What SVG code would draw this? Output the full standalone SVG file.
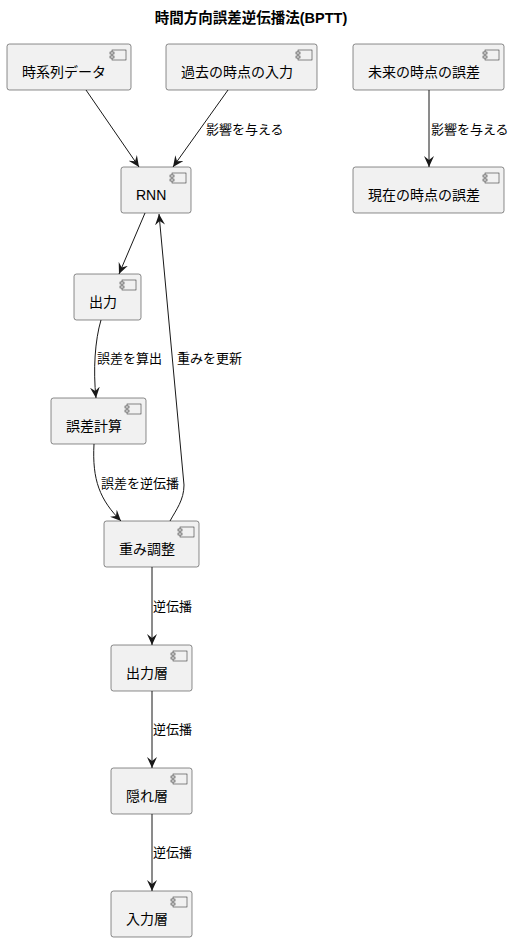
<svg xmlns="http://www.w3.org/2000/svg" width="515" height="942" viewBox="0 0 515 942">
<style>
.box{fill:#F1F1F1;stroke:#181818;stroke-width:0.5;}
.ic{fill:#F1F1F1;stroke:#181818;stroke-width:0.5;}
.t{font-family:"Liberation Sans","Noto Sans CJK JP",sans-serif;font-size:14px;fill:#000;}
.l{font-family:"Liberation Sans","Noto Sans CJK JP",sans-serif;font-size:13px;fill:#000;}
.title{font-family:"Liberation Sans","Noto Sans CJK JP",sans-serif;font-size:14.5px;font-weight:bold;fill:#000;}
.e{fill:none;stroke:#181818;stroke-width:1;}
</style>
<defs>
<marker id="a" viewBox="0 0 12 10" refX="11" refY="5" markerWidth="12" markerHeight="10" markerUnits="userSpaceOnUse" orient="auto">
<path d="M0,0 L11,5 L0,10 L4,5 Z" fill="#181818"/>
</marker>
<g id="icon">
<rect x="-19" y="6" width="14" height="10" class="ic"/>
<rect x="-21" y="8" width="4" height="2" class="ic"/>
<rect x="-21" y="12" width="4" height="2" class="ic"/>
</g>
</defs>
<rect width="515" height="942" fill="#FFFFFF"/>
<text class="title" x="251" y="23" text-anchor="middle">時間方向誤差逆伝播法(BPTT)</text>

<g id="connectors">
<path class="e" d="M86,90 L139,167" marker-end="url(#a)"/>
<path class="e" d="M228,90 L173,167" marker-end="url(#a)"/>
<text class="l" x="206" y="134">影響を与える</text>
<path class="e" d="M429,90 L429,167" marker-end="url(#a)"/>
<text class="l" x="431" y="134">影響を与える</text>
<path class="e" d="M145,213 L119,274" marker-end="url(#a)"/>
<path class="e" d="M101,320 C95,340 93,370 96,398" marker-end="url(#a)"/>
<text class="l" x="97" y="363">誤差を算出</text>
<path class="e" d="M94,444 C92,480 100,500 121,521" marker-end="url(#a)"/>
<text class="l" x="101" y="488">誤差を逆伝播</text>
<path class="e" d="M170,521 C176,510 184,500 184,485 L159,214" marker-end="url(#a)"/>
<text class="l" x="177" y="363">重みを更新</text>
<path class="e" d="M152,567 L152,645" marker-end="url(#a)"/>
<text class="l" x="153" y="611">逆伝播</text>
<path class="e" d="M152,691 L152,768" marker-end="url(#a)"/>
<text class="l" x="153" y="734">逆伝播</text>
<path class="e" d="M152,814 L152,891" marker-end="url(#a)"/>
<text class="l" x="153" y="857">逆伝播</text>
</g>

<g id="n1"><rect class="box" x="7" y="44" width="124" height="46" rx="2.5"/><use href="#icon" x="131" y="44"/><text class="t" x="22" y="77">時系列データ</text></g>
<g id="n2"><rect class="box" x="166" y="44" width="151" height="46" rx="2.5"/><use href="#icon" x="317" y="44"/><text class="t" x="181" y="77">過去の時点の入力</text></g>
<g id="n3"><rect class="box" x="353" y="44" width="151" height="46" rx="2.5"/><use href="#icon" x="504" y="44"/><text class="t" x="368" y="77">未来の時点の誤差</text></g>
<g id="n4"><rect class="box" x="121" y="167" width="70" height="46" rx="2.5"/><use href="#icon" x="191" y="167"/><text class="t" x="136" y="200">RNN</text></g>
<g id="n5"><rect class="box" x="353" y="167" width="151" height="46" rx="2.5"/><use href="#icon" x="504" y="167"/><text class="t" x="368" y="200">現在の時点の誤差</text></g>
<g id="n6"><rect class="box" x="74" y="274" width="67" height="46" rx="2.5"/><use href="#icon" x="141" y="274"/><text class="t" x="89" y="307">出力</text></g>
<g id="n7"><rect class="box" x="51" y="398" width="95" height="46" rx="2.5"/><use href="#icon" x="146" y="398"/><text class="t" x="66" y="431">誤差計算</text></g>
<g id="n8"><rect class="box" x="104" y="521" width="95" height="46" rx="2.5"/><use href="#icon" x="199" y="521"/><text class="t" x="119" y="554">重み調整</text></g>
<g id="n9"><rect class="box" x="111" y="645" width="81" height="46" rx="2.5"/><use href="#icon" x="192" y="645"/><text class="t" x="126" y="678">出力層</text></g>
<g id="n10"><rect class="box" x="111" y="768" width="81" height="46" rx="2.5"/><use href="#icon" x="192" y="768"/><text class="t" x="126" y="801">隠れ層</text></g>
<g id="n11"><rect class="box" x="111" y="891" width="81" height="46" rx="2.5"/><use href="#icon" x="192" y="891"/><text class="t" x="126" y="924">入力層</text></g>
</svg>
